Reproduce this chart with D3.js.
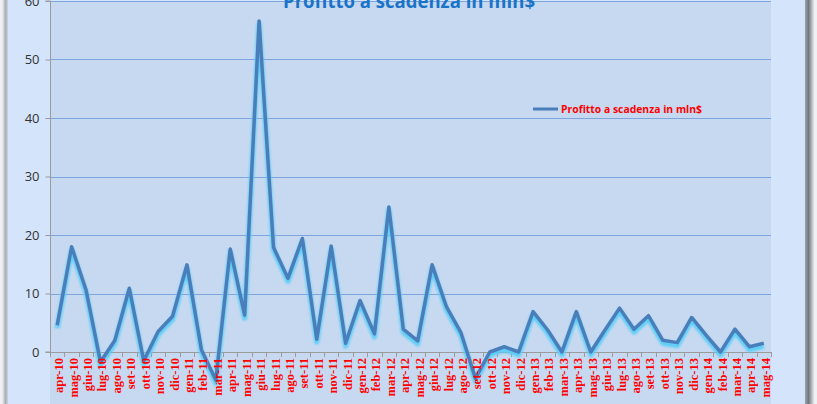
<!DOCTYPE html>
<html>
<head>
<meta charset="utf-8">
<script src="https://cdn.jsdelivr.net/npm/d3@7"></script>
<style>
  html, body { margin: 0; padding: 0; background: #ffffff; }
  svg { display: block; }
</style>
</head>
<body>
<svg id="chart" width="817" height="404"></svg>
<script>
const categories = ["apr-10","mag-10","giu-10","lug-10","ago-10","set-10","ott-10","nov-10","dic-10",
  "gen-11","feb-11","mar-11","apr-11","mag-11","giu-11","lug-11","ago-11","set-11","ott-11","nov-11","dic-11",
  "gen-12","feb-12","mar-12","apr-12","mag-12","giu-12","lug-12","ago-12","set-12","ott-12","nov-12","dic-12",
  "gen-13","feb-13","mar-13","apr-13","mag-13","giu-13","lug-13","ago-13","set-13","ott-13","nov-13","dic-13",
  "gen-14","feb-14","mar-14","apr-14","mag-14"];
const profitValues = [4.6, 18.0, 10.6, -1.7, 2.0, 10.9, -1.5, 3.5, 6.1,
  14.9, 0.4, -4.8, 17.6, 6.3, 56.6, 17.9, 12.6, 19.4, 2.2, 18.1, 1.5,
  8.8, 3.1, 24.8, 3.9, 1.9, 14.9, 7.7, 3.3, -4.5, 0.0, 0.9, 0.0,
  6.9, 3.8, 0.0, 6.9, 0.0, 3.8, 7.5, 3.9, 6.2, 2.0, 1.6, 5.9,
  2.9, 0.0, 3.9, 0.9, 1.5];
const yTicks = [0, 10, 20, 30, 40, 50, 60];
const seriesName = "Profitto a scadenza in mln$";
const titleText = "Profitto a scadenza in mln$";

const svg = d3.select("#chart");
const plot = { left: 50, right: 771, top: 1, bottom: 352 };

// defs
const defs = svg.append("defs");
const gr = defs.append("linearGradient").attr("id", "rshadow").attr("x1", 0).attr("x2", 1).attr("y1", 0).attr("y2", 0);
gr.append("stop").attr("offset", "0%").attr("stop-color", "#9aa3ad");
gr.append("stop").attr("offset", "40%").attr("stop-color", "#6f7780");
gr.append("stop").attr("offset", "100%").attr("stop-color", "#e6e8ea");
const gl = defs.append("linearGradient").attr("id", "lshadow").attr("x1", 0).attr("x2", 1).attr("y1", 0).attr("y2", 0);
gl.append("stop").attr("offset", "0%").attr("stop-color", "#f0f1f2");
gl.append("stop").attr("offset", "60%").attr("stop-color", "#a9adb2");
gl.append("stop").attr("offset", "100%").attr("stop-color", "#c9d6e6");
defs.append("filter").attr("id", "glow").attr("x", "-5%").attr("y", "-5%").attr("width", "110%").attr("height", "110%")
  .append("feGaussianBlur").attr("stdDeviation", 1.3);

// chart area background
svg.append("rect").attr("x", 0).attr("y", 0).attr("width", 817).attr("height", 404).attr("fill", "#eef0f2");
svg.append("rect").attr("x", 2).attr("y", 0).attr("width", 6).attr("height", 404).attr("fill", "url(#lshadow)");
svg.append("rect").attr("x", 8).attr("y", 0).attr("width", 797).attr("height", 404).attr("fill", "#d4e5fb");
svg.append("rect").attr("x", 805).attr("y", 0).attr("width", 9).attr("height", 404).attr("fill", "url(#rshadow)");

// plot area
svg.append("rect").attr("x", plot.left).attr("y", plot.top)
  .attr("width", plot.right - plot.left).attr("height", 404 - plot.top).attr("fill", "#c6d9f0");

const x = d3.scaleBand().domain(categories).range([plot.left, plot.right]).paddingInner(0).paddingOuter(0);
const y = d3.scaleLinear().domain([0, 60]).range([plot.bottom, plot.top]);

// gridlines
svg.append("g").selectAll("line").data(yTicks.filter(d => d !== 0)).join("line")
  .attr("x1", plot.left).attr("x2", plot.right)
  .attr("y1", d => Math.round(y(d)) + 0.5).attr("y2", d => Math.round(y(d)) + 0.5)
  .attr("stroke", "#7ea6dc").attr("stroke-width", 1);

// y axis
const yAxis = d3.axisLeft(y).tickValues(yTicks).tickSize(5).tickPadding(6).tickFormat(d3.format("d"));
const gy = svg.append("g").attr("transform", `translate(${plot.left + 0.5},0)`).call(yAxis);
gy.select(".domain").attr("stroke", "#9b9b9b").attr("d", `M-5,${y(60)}H0V${plot.bottom}H-5`);
gy.selectAll(".tick line").attr("stroke", "#9b9b9b");
gy.selectAll(".tick text").attr("font-family", "'Open Sans', 'Liberation Sans', sans-serif")
  .attr("font-size", 13).attr("fill", "#333333");

// x axis line and ticks at boundaries
const boundaries = d3.range(categories.length + 1).map(i => plot.left + i * x.bandwidth());
svg.append("line").attr("x1", plot.left).attr("x2", plot.right)
  .attr("y1", plot.bottom + 0.5).attr("y2", plot.bottom + 0.5).attr("stroke", "#9b9b9b");
svg.append("g").selectAll("line").data(boundaries).join("line")
  .attr("x1", d => Math.round(d) + 0.5).attr("x2", d => Math.round(d) + 0.5)
  .attr("y1", plot.bottom).attr("y2", plot.bottom + 5).attr("stroke", "#9b9b9b");

// line
const cx = d => x(d) + x.bandwidth() / 2;
const lineGen = d3.line().x((d, i) => cx(categories[i])).y(d => y(d));
svg.append("path").datum(profitValues).attr("d", lineGen)
  .attr("fill", "none").attr("stroke", "#58cdf7").attr("stroke-width", 5)
  .attr("stroke-linejoin", "round").attr("transform", "translate(0,3)")
  .attr("filter", "url(#glow)").attr("opacity", 0.95);
svg.append("path").datum(profitValues).attr("d", lineGen)
  .attr("fill", "none").attr("stroke", "#4a7ebb").attr("stroke-width", 3.5)
  .attr("stroke-linejoin", "round");

// x labels
svg.append("g").selectAll("text").data(categories).join("text")
  .attr("transform", d => `translate(${cx(d) + 2},${plot.bottom + 6}) rotate(-90)`)
  .attr("text-anchor", "end").attr("dominant-baseline", "central")
  .attr("font-family", "'Liberation Serif', 'Times New Roman', serif")
  .attr("font-size", 12.5).attr("font-weight", "bold").attr("fill", "#ff0000")
  .text(d => d);

// title
svg.append("text").attr("x", 409).attr("y", 8).attr("text-anchor", "middle")
  .attr("font-family", "'Open Sans', 'Liberation Sans', sans-serif").attr("font-weight", "bold")
  .attr("font-size", 20).attr("fill", "#1a73c6")
  .attr("textLength", 252).attr("lengthAdjust", "spacingAndGlyphs")
  .text(titleText);

// legend
svg.append("line").attr("x1", 533).attr("x2", 558).attr("y1", 109).attr("y2", 109)
  .attr("stroke", "#4a7ebb").attr("stroke-width", 3);
svg.append("text").attr("x", 561).attr("y", 113)
  .attr("font-family", "'Open Sans', 'Liberation Sans', sans-serif").attr("font-weight", "bold")
  .attr("font-size", 11).attr("fill", "#ff0000")
  .attr("textLength", 141).attr("lengthAdjust", "spacingAndGlyphs")
  .text(seriesName);
</script>
</body>
</html>
